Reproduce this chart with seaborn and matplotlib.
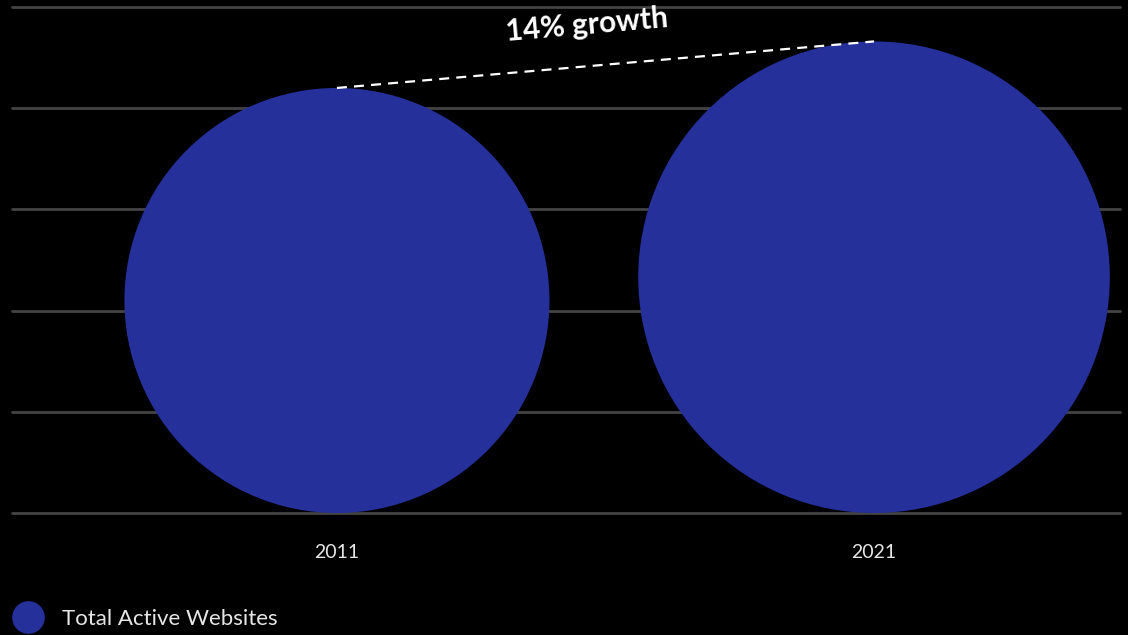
import math
import matplotlib
matplotlib.use("Agg")
import matplotlib.pyplot as plt
from matplotlib.patches import Ellipse
from matplotlib.lines import Line2D
import seaborn as sns

# Chart data
years = ["2011", "2021"]
circle_size = [4.20, 4.66]      # circle diameter, in gridline units
growth_label = "14% growth"
series_name = "Total Active Websites"

BG = "#000000"
BLUE = "#25309B"
GRID = "#444444"
TEXT = "#E6E6E6"

sns.set_theme(style="dark", rc={
    "figure.facecolor": BG,
    "axes.facecolor": BG,
    "savefig.facecolor": BG,
})
plt.rcParams["font.family"] = ["Lato", "DejaVu Sans"]

W, H, DPI = 1128, 635, 100
fig = plt.figure(figsize=(W / DPI, H / DPI), dpi=DPI)
ax = fig.add_axes([12 / W, 1 - 513 / H, (1120 - 12) / W, (513 - 7) / H])
ax.set_facecolor(BG)

x_pos = list(range(len(years)))
ax.set_xlim(-0.605, 1.458)
ax.set_ylim(0, 5)

# horizontal gridlines
for gy in range(0, 6):
    ax.axhline(gy, color=GRID, lw=2, zorder=1, clip_on=False)

# pixel scale of each axis, so circles stay round
fig.canvas.draw()
p0 = ax.transData.transform((0, 0))
p1 = ax.transData.transform((1, 1))
px_x = p1[0] - p0[0]
px_y = p1[1] - p0[1]

for xp, d in zip(x_pos, circle_size):
    e = Ellipse((xp, d / 2), width=d * px_y / px_x, height=d,
                facecolor=BLUE, edgecolor="none", zorder=3)
    ax.add_patch(e)

# dashed connector between circle tops
ax.plot(x_pos, circle_size, color="white", lw=1.6, ls=(0, (4.5, 3.2)),
        zorder=4, solid_capstyle="butt")

# growth label aligned with the connector
dx = (x_pos[1] - x_pos[0]) * px_x
dy = (circle_size[1] - circle_size[0]) * px_y
angle = math.degrees(math.atan2(dy, dx))
ax.text(0.466, 4.82, growth_label, color="white", fontsize=21.5,
        fontweight="bold", rotation=angle, rotation_mode="anchor",
        ha="center", va="center", zorder=5)

ax.set_xticks(x_pos)
ax.set_xticklabels(years, color=TEXT, fontsize=14)
ax.tick_params(axis="x", length=0, pad=22)
ax.set_yticks([])
ax.grid(False)
sns.despine(ax=ax, left=True, bottom=True)

handle = Line2D([], [], marker="o", ls="none", markersize=23.5,
                markerfacecolor=BLUE, markeredgecolor="none")
fig.legend([handle], [series_name], loc="center left",
           bbox_to_anchor=(12 / W, 1 - 619 / H), frameon=False,
           fontsize=16, labelcolor=TEXT, handlelength=1.4,
           handletextpad=0.85, borderpad=0, borderaxespad=0)

fig.savefig("out.png", dpi=DPI, facecolor=BG)
